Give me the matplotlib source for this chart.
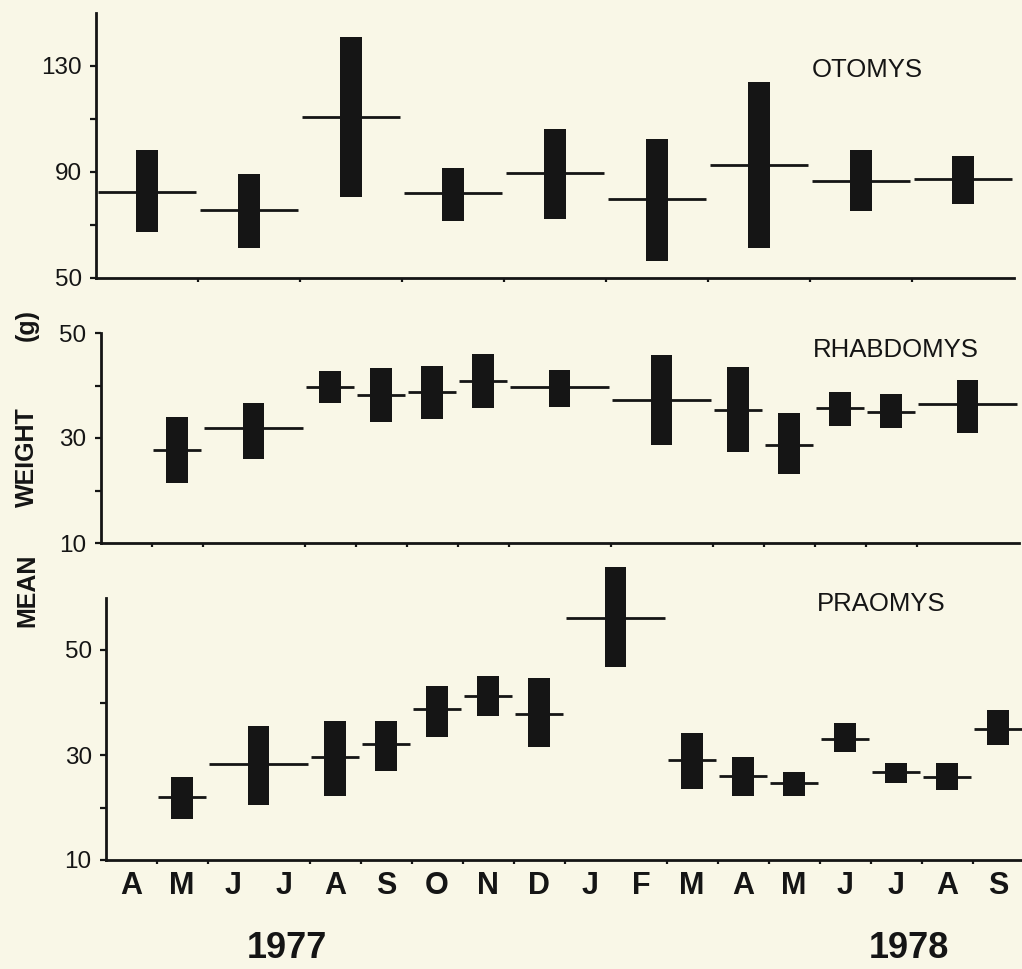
import numpy as np
import matplotlib
matplotlib.use("Agg")
import matplotlib.pyplot as plt

# ---- data -------------------------------------------------------------
months = ["A", "M", "J", "J", "A", "S", "O", "N", "D",
          "J", "F", "M", "A", "M", "J", "J", "A", "S"]
years = ["1977", "1978"]

# Otomys: bimonthly samples (start month index, months covered)
otomys_start = [0, 2, 4, 6, 8, 10, 12, 14, 16]
otomys_span = [2, 2, 2, 2, 2, 2, 2, 2, 2]
otomys_mean = [82.5, 75.7, 110.8, 82.1, 89.6, 79.8, 92.6, 86.6, 87.4]
otomys_low = [67.4, 61.3, 80.6, 71.5, 72.3, 56.4, 61.3, 75.3, 77.9]
otomys_high = [98.3, 89.2, 140.9, 91.5, 106.2, 102.5, 124.0, 98.3, 96.0]

# Rhabdomys
rhabdo_start = [1, 2, 4, 5, 6, 7, 8, 10, 12, 13, 14, 15, 16]
rhabdo_span = [1, 2, 1, 1, 1, 1, 2, 2, 1, 1, 1, 1, 2]
rhabdo_mean = [27.7, 31.9, 39.7, 38.2, 38.8, 40.9, 39.7, 37.2, 35.3, 28.7, 35.7, 35.0, 36.5]
rhabdo_low = [21.4, 26.0, 36.7, 33.0, 33.6, 35.7, 35.9, 28.7, 27.3, 23.1, 32.3, 31.9, 31.0]
rhabdo_high = [34.0, 36.7, 42.8, 43.3, 43.7, 46.0, 43.0, 45.8, 43.5, 34.8, 38.8, 38.4, 41.0]

# Praomys
praomys_start = [1, 2, 4, 5, 6, 7, 8, 9, 11, 12, 13, 14, 15, 16, 17]
praomys_span = [1, 2, 1, 1, 1, 1, 1, 2, 1, 1, 1, 1, 1, 1, 1]
praomys_mean = [22.0, 28.3, 29.6, 32.1, 38.8, 41.2, 37.8, 56.1, 29.0, 26.0, 24.7, 33.0, 26.8, 25.8, 35.0]
praomys_low = [17.8, 20.5, 22.2, 26.9, 33.4, 37.4, 31.5, 46.8, 23.5, 22.2, 22.2, 30.6, 24.7, 23.3, 31.9]
praomys_high = [25.8, 35.5, 36.5, 36.5, 43.1, 45.0, 44.7, 65.8, 34.2, 29.6, 26.8, 36.1, 28.5, 28.5, 38.6]

# ---- style ------------------------------------------------------------
INK = "#151515"
PAPER = "#f9f7e7"
plt.rcParams["font.family"] = ["Liberation Sans", "DejaVu Sans"]

W, H = 1022, 969
fig = plt.figure(figsize=(W / 100, H / 100), dpi=100, facecolor=PAPER)

MONTH_PX = 51.0
N_MONTHS = 18


def make_axes(left_px, base_px, ymin, ymax, px_per_unit):
    """Axes placed in pixel units: left edge, y pixel of ymin."""
    height = (ymax - ymin) * px_per_unit
    ax = fig.add_axes([left_px / W, (H - base_px) / H,
                       N_MONTHS * MONTH_PX / W, height / H])
    ax.set_xlim(0, N_MONTHS)
    ax.set_ylim(ymin, ymax)
    ax.set_facecolor("none")
    for s in ("top", "right"):
        ax.spines[s].set_visible(False)
    for s in ("left", "bottom"):
        ax.spines[s].set_color(INK)
        ax.spines[s].set_linewidth(2.0)
    ax.tick_params(axis="both", which="both", direction="out", color=INK,
                   width=1.6, labelcolor=INK)
    ax.tick_params(axis="y", which="major", length=4, pad=6, labelsize=17.5)
    ax.tick_params(axis="y", which="minor", length=4)
    ax.tick_params(axis="x", which="major", length=3, labelbottom=False)
    return ax


def draw_samples(ax, start, span, mean, low, high):
    start = np.asarray(start, float)
    span = np.asarray(span, float)
    low = np.asarray(low, float)
    high = np.asarray(high, float)
    centre = start + span / 2
    ax.bar(centre, high - low, bottom=low, width=0.42, color=INK,
           linewidth=0, clip_on=False, zorder=3)
    ax.hlines(mean, start + 0.03, start + span - 0.03, color=INK,
              linewidth=2.0, zorder=4, clip_on=False)
    # ticks mark the boundaries of the sampling periods
    edges = sorted(set(start.tolist()) | set((start + span).tolist()))
    edges = [e for e in edges if 0 < e < N_MONTHS]
    ax.set_xticks(edges)


# OTOMYS
ax1 = make_axes(96, 278, 50, 150, 2.65)
draw_samples(ax1, otomys_start, otomys_span, otomys_mean, otomys_low, otomys_high)
ax1.set_yticks([50, 90, 130])
ax1.set_yticks([70, 110], minor=True)
ax1.text(0.78, 0.785, "OTOMYS", transform=ax1.transAxes, fontsize=18.5,
         color=INK, ha="left", va="center")

# RHABDOMYS
ax2 = make_axes(100.5, 543, 10, 50, 5.25)
draw_samples(ax2, rhabdo_start, rhabdo_span, rhabdo_mean, rhabdo_low, rhabdo_high)
ax2.set_yticks([10, 30, 50])
ax2.set_yticks([20, 40], minor=True)
ax2.text(0.776, 0.92, "RHABDOMYS", transform=ax2.transAxes, fontsize=18.5,
         color=INK, ha="left", va="center")

# PRAOMYS
ax3 = make_axes(105.6, 860, 10, 67, 5.25)
draw_samples(ax3, praomys_start, praomys_span, praomys_mean, praomys_low, praomys_high)
ax3.spines["left"].set_bounds(10, 60)
ax3.set_yticks([10, 30, 50])
ax3.set_yticks([20, 40], minor=True)
ax3.text(0.775, 0.855, "PRAOMYS", transform=ax3.transAxes, fontsize=18.5,
         color=INK, ha="left", va="center")

# month letters centred on each month
ax3.set_xticks(np.arange(N_MONTHS) + 0.5, minor=True)
ax3.set_xticklabels(months, minor=True, fontsize=22, fontweight="bold", color=INK)
ax3.tick_params(axis="x", which="minor", length=0, pad=8, labelbottom=True)

# years
fig.text(287 / W, 1 - 949 / H, years[0], fontsize=26, fontweight="bold",
         color=INK, ha="center", va="center")
fig.text(909 / W, 1 - 949 / H, years[1], fontsize=26, fontweight="bold",
         color=INK, ha="center", va="center")

# shared y-axis title
for word, ypx in (("MEAN", 590), ("WEIGHT", 457), ("(g)", 325)):
    fig.text(27 / W, 1 - ypx / H, word, rotation=90, fontsize=18,
             fontweight="bold", color=INK, ha="center", va="center")

fig.savefig("out.png", dpi=100, facecolor=PAPER)
